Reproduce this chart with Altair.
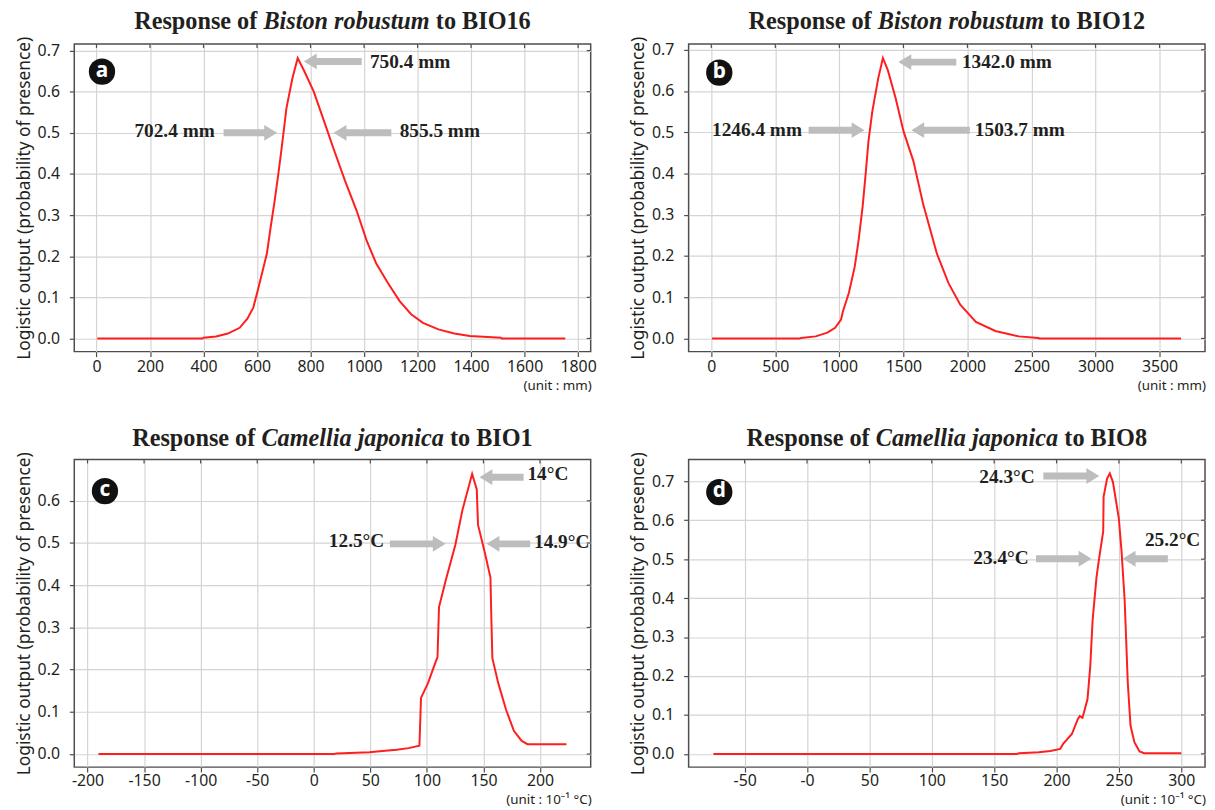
import altair as alt
import pandas as pd

W, H = 522, 311
RED = "#ff1e1e"
GRAY = "#bdbdbd"
INK = "#231f20"
FRAME = "#4d4d4d"
SERIF = "Liberation Serif"
SANS = "Noto Sans"
TITLE_FS = 24.5
ANN_FS = 19.5

# ---------------- panel a : Biston robustum vs BIO16 ----------------
A_X = [3, 395, 400, 447, 491, 535, 564, 586, 600, 619, 637, 651, 666, 681, 692, 710, 732, 752,
       775, 812, 855, 885, 929, 972, 1009, 1045, 1089, 1133, 1176, 1220, 1278, 1337, 1395, 1511, 1515, 1752]
A_Y = [0, 0, 0.002, 0.005, 0.012, 0.026, 0.048, 0.075, 0.11, 0.159, 0.207, 0.271, 0.335, 0.407, 0.463, 0.56, 0.632, 0.682,
       0.652, 0.6, 0.52, 0.463, 0.383, 0.311, 0.239, 0.183, 0.135, 0.091, 0.059, 0.038, 0.022, 0.012, 0.006, 0.002, 0, 0]
A_XT = [0, 200, 400, 600, 800, 1000, 1200, 1400, 1600, 1800]
A_YT = [0, 0.1, 0.2, 0.3, 0.4, 0.5, 0.6, 0.7]
A_TAIL = [991, 475, 1102]
A_TIP = [775, 675, 886]
A_AY = [0.6735, 0.5, 0.5]
A_TXT = ["750.4 mm", "702.4 mm", "855.5 mm"]
A_TX = [1022, 442, 1133]
A_TY = [0.669, 0.503, 0.503]
A_TAL = ["left", "right", "left"]

# ---------------- panel b : Biston robustum vs BIO12 ----------------
B_X = [6, 690, 700, 815, 906, 967, 1013, 1028, 1074, 1120, 1150, 1181, 1205, 1227, 1257, 1303, 1340,
       1379, 1440, 1501, 1578, 1654, 1761, 1852, 1944, 2066, 2218, 2402, 2554, 2560, 3668]
B_Y = [0, 0, 0.001, 0.005, 0.014, 0.026, 0.046, 0.066, 0.11, 0.174, 0.238, 0.318, 0.398, 0.478, 0.55, 0.63, 0.68,
       0.65, 0.582, 0.502, 0.43, 0.326, 0.206, 0.134, 0.082, 0.04, 0.018, 0.005, 0.001, 0, 0]
B_XT = [0, 500, 1000, 1500, 2000, 2500, 3000, 3500]
B_YT = [0, 0.1, 0.2, 0.3, 0.4, 0.5, 0.6, 0.7]
B_TAIL = [1913, 760, 2019]
B_TIP = [1461, 1196, 1562]
B_AY = [0.670, 0.505, 0.505]
B_TXT = ["1342.0 mm", "1246.4 mm", "1503.7 mm"]
B_TX = [1957, 708, 2058]
B_TY = [0.667, 0.502, 0.502]
B_TAL = ["left", "right", "left"]

# ---------------- panel c : Camellia japonica vs BIO1 ----------------
C_X = [-190.3, 18, 20, 49.3, 63.1, 73.4, 83.8, 93.4, 94.8, 101, 106.2, 109.4, 110.7, 116.5, 125.2, 131.4, 140,
       144.1, 145.2, 151, 156.2, 156.9, 157.9, 163.1, 170, 176.9, 183.8, 189, 223.4]
C_Y = [0, 0, 0.0015, 0.004, 0.008, 0.010, 0.014, 0.0195, 0.133, 0.168, 0.207, 0.23, 0.348, 0.41, 0.496, 0.578, 0.664,
       0.627, 0.543, 0.48, 0.418, 0.332, 0.227, 0.168, 0.105, 0.055, 0.031, 0.0234, 0.0234]
C_XT = [-200, -150, -100, -50, 0, 50, 100, 150, 200]
C_YT = [0, 0.1, 0.2, 0.3, 0.4, 0.5, 0.6]
C_TAIL = [185.5, 67.3, 191.3]
C_TIP = [146.5, 116.6, 152.7]
C_AY = [0.656, 0.498, 0.498]
C_TXT = ["14°C", "12.5°C", "14.9°C"]
C_TX = [188.9, 62.3, 194.7]
C_TY = [0.66, 0.503, 0.5]
C_TAL = ["left", "right", "left"]

# ---------------- panel d : Camellia japonica vs BIO8 ----------------
D_X = [-75, 168, 170, 185.7, 195, 202.9, 205.1, 212.3, 217, 218.6, 220.8, 224.8, 227, 228.9, 232, 234.2, 237.4, 237.7,
       240.5, 242.7, 245.2, 249.9, 252.1, 254.6, 257.1, 259.3, 262.4, 266.5, 270.3, 300]
D_Y = [0, 0, 0.0017, 0.004, 0.0076, 0.0127, 0.025, 0.051, 0.089, 0.097, 0.093, 0.14, 0.224, 0.343, 0.453, 0.504, 0.571, 0.66,
       0.707, 0.72, 0.698, 0.605, 0.52, 0.394, 0.182, 0.072, 0.03, 0.006, 0.0017, 0.0017]
D_XT = [-50, 0, 50, 100, 150, 200, 250, 300]
D_YT = [0, 0.1, 0.2, 0.3, 0.4, 0.5, 0.6, 0.7]
D_TAIL = [189.4, 183.5, 289.2]
D_TIP = [234.2, 228, 253]
D_AY = [0.7136, 0.501, 0.501]
D_TXT = ["24.3°C", "23.4°C", "25.2°C"]
D_TX = [182.5, 177.7, 293]
D_TY = [0.708, 0.4995, 0.546]
D_TAL = ["right", "right", "center"]

YTITLE = "Logistic output (probability of presence)"

PANELS = [
    dict(letter="a", xs=A_X, ys=A_Y, xt=A_XT, yt=A_YT, xdom=[-83, 1847], ydom=[-0.032, 0.716],
         tail=A_TAIL, tip=A_TIP, ay=A_AY, txt=A_TXT, tx=A_TX, ty=A_TY, tal=A_TAL,
         title=("Response of", "Biston robustum", "to BIO16"), unit="(unit : mm)",
         lpos=(28, 28), ty0=-15, zero_minus=False, uy=35, lp=2),
    dict(letter="b", xs=B_X, ys=B_Y, xt=B_XT, yt=B_YT, xdom=[-177, 3855], ydom=[-0.032, 0.714],
         tail=B_TAIL, tip=B_TIP, ay=B_AY, txt=B_TXT, tx=B_TX, ty=B_TY, tal=B_TAL,
         title=("Response of", "Biston robustum", "to BIO12"), unit="(unit : mm)",
         lpos=(31, 29), ty0=-15, zero_minus=False, uy=35, lp=2),
    dict(letter="c", xs=C_X, ys=C_Y, xt=C_XT, yt=C_YT, xdom=[-211.7, 244.8], ydom=[-0.031, 0.698],
         tail=C_TAIL, tip=C_TIP, ay=C_AY, txt=C_TXT, tx=C_TX, ty=C_TY, tal=C_TAL,
         title=("Response of", "Camellia japonica", "to BIO1"), unit="(unit : 10\u207b\u00b9 \u00b0C)",
         lpos=(31, 32), ty0=-14, zero_minus=False, uy=33, lp=1),
    dict(letter="d", xs=D_X, ys=D_Y, xt=D_XT, yt=D_YT, xdom=[-94.9, 319], ydom=[-0.034, 0.756],
         tail=D_TAIL, tip=D_TIP, ay=D_AY, txt=D_TXT, tx=D_TX, ty=D_TY, tal=D_TAL,
         title=("Response of", "Camellia japonica", "to BIO8"), unit="(unit : 10\u207b\u00b9 \u00b0C)",
         lpos=(31, 33), ty0=-14, zero_minus=True, uy=33, lp=1),
]

# Times-compatible advance widths (per 1000 em) for the mixed-style titles
BOLD = {' ': 250, 'R': 722, 'e': 444, 's': 389, 'p': 556, 'o': 500, 'n': 556, 'f': 333, 't': 333,
        'B': 667, 'I': 389, 'O': 778, '1': 500, '2': 500, '6': 500, '8': 500}
BOLDIT = {' ': 250, 'B': 667, 'i': 278, 's': 389, 't': 278, 'o': 500, 'n': 556, 'r': 389, 'b': 500,
          'u': 556, 'm': 778, 'C': 667, 'a': 500, 'e': 444, 'l': 278, 'j': 278, 'p': 500, 'c': 444}


def tw(s, table):
    return sum(table.get(ch, 500) for ch in s) / 1000.0 * TITLE_FS


def make_panel(p):
    xsc = alt.Scale(domain=p["xdom"], nice=False, zero=False)
    ysc = alt.Scale(domain=p["ydom"], nice=False, zero=False)
    lab = "datum.value == 0 ? '-0' : '' + datum.value" if p["zero_minus"] else "'' + datum.value"
    xax = alt.Axis(values=p["xt"], title=None, labelExpr=lab, labelPadding=p["lp"], labelFlush=False)
    yax = alt.Axis(values=p["yt"], title=YTITLE, format=".1f", labelPadding=10,
                   titleX=-50.5, titleY=H / 2, titleAngle=-90, titleAlign="center",
                   titleBaseline="middle", titleFont=SANS, titleFontSize=17.5,
                   titleFontWeight="normal", titleColor=INK)

    def X(f):
        return alt.X(f"{f}:Q", scale=xsc, axis=xax)

    def Y(f):
        return alt.Y(f"{f}:Q", scale=ysc, axis=yax)

    curve = pd.DataFrame({"x": p["xs"], "y": p["ys"]})
    line = alt.Chart(curve).mark_line(color=RED, strokeWidth=2).encode(x=X("x"), y=Y("y"))

    topt = alt.Chart(pd.DataFrame({"x": p["xt"]})).mark_rule(color=FRAME, strokeWidth=1.2).encode(
        x=X("x"), y=alt.value(0), y2=alt.value(4))
    rightt = alt.Chart(pd.DataFrame({"y": p["yt"]})).mark_rule(color=FRAME, strokeWidth=1.2).encode(
        y=Y("y"), x=alt.value(W - 4), x2=alt.value(W))

    arr = pd.DataFrame({"tail": p["tail"], "tip": p["tip"], "y": p["ay"]})
    arr["dir"] = ["r" if t > s else "l" for s, t in zip(arr["tail"], arr["tip"])]
    shaft_r = alt.Chart(arr).transform_filter("datum.dir == 'r'").mark_rule(
        color=GRAY, strokeWidth=7, x2Offset=-9).encode(x=X("tail"), x2="tip:Q", y=Y("y"))
    shaft_l = alt.Chart(arr).transform_filter("datum.dir == 'l'").mark_rule(
        color=GRAY, strokeWidth=7, x2Offset=9).encode(x=X("tail"), x2="tip:Q", y=Y("y"))
    head_r = alt.Chart(arr).transform_filter("datum.dir == 'r'").mark_point(
        shape="M0,0L-1.625,-1L-1.625,1Z", filled=True, size=256, color=GRAY, opacity=1).encode(
        x=X("tip"), y=Y("y"))
    head_l = alt.Chart(arr).transform_filter("datum.dir == 'l'").mark_point(
        shape="M0,0L1.625,-1L1.625,1Z", filled=True, size=256, color=GRAY, opacity=1).encode(
        x=X("tip"), y=Y("y"))

    tdf = pd.DataFrame({"x": p["tx"], "y": p["ty"], "t": p["txt"], "al": p["tal"]})
    texts = []
    for al in ["left", "right", "center"]:
        texts.append(alt.Chart(tdf).transform_filter(f"datum.al == '{al}'").mark_text(
            align=al, baseline="middle", font=SERIF, fontWeight="bold", fontSize=ANN_FS, color=INK, dy=-1).encode(
            x=X("x"), y=Y("y"), text="t:N"))

    one = pd.DataFrame({"t": [p["letter"]]})
    circ = alt.Chart(one).mark_point(shape="circle", filled=True, size=707, color="#111111", opacity=1).encode(
        x=alt.value(p["lpos"][0]), y=alt.value(p["lpos"][1]))
    letter = alt.Chart(one).mark_text(font=SANS, fontWeight="bold", fontSize=21, color="white",
                                      align="center", baseline="middle", dy=-1).encode(
        x=alt.value(p["lpos"][0]), y=alt.value(p["lpos"][1]), text="t:N")

    left_s, ital_s, right_s = p["title"]
    sp = BOLD[' '] / 1000.0 * TITLE_FS
    wl, wi, wr = tw(left_s, BOLD), tw(ital_s, BOLDIT), tw(right_s, BOLD)
    total = wl + sp + wi + sp + wr
    x0 = W / 2 - total / 2
    tparts = []
    for s, xx, style in [(left_s, x0, "normal"), (ital_s, x0 + wl + sp, "italic"), (right_s, x0 + wl + sp + wi + sp, "normal")]:
        tparts.append(alt.Chart(pd.DataFrame({"t": [s]})).mark_text(
            font=SERIF, fontWeight="bold", fontStyle=style, fontSize=TITLE_FS, color=INK,
            align="left", baseline="alphabetic").encode(x=alt.value(xx), y=alt.value(p["ty0"]), text="t:N"))

    unit = alt.Chart(pd.DataFrame({"t": [p["unit"]]})).mark_text(
        font=SANS, fontSize=13.5, color=INK, align="right", baseline="middle").encode(
        x=alt.value(W + 1), y=alt.value(H + p["uy"]), text="t:N")

    return alt.layer(line, topt, rightt, shaft_r, shaft_l, head_r, head_l, *texts, circ, letter,
                     *tparts, unit).properties(width=W, height=H)


charts = [make_panel(p) for p in PANELS]
chart = alt.concat(*charts, columns=2, spacing={"row": 31, "column": 31}).configure_view(
    stroke=FRAME, strokeWidth=1.5
).configure_axis(
    labelFont=SANS, labelFontSize=16, labelColor=INK, domain=False, ticks=True, tickSize=5,
    tickColor=FRAME, tickWidth=1.2, grid=True, gridColor="#d4d4d4", gridWidth=1.2
).properties(padding={"left": 6, "top": -4, "right": 0, "bottom": 0})

chart.save("out.html", embed_options={"renderer": "svg", "actions": False})
